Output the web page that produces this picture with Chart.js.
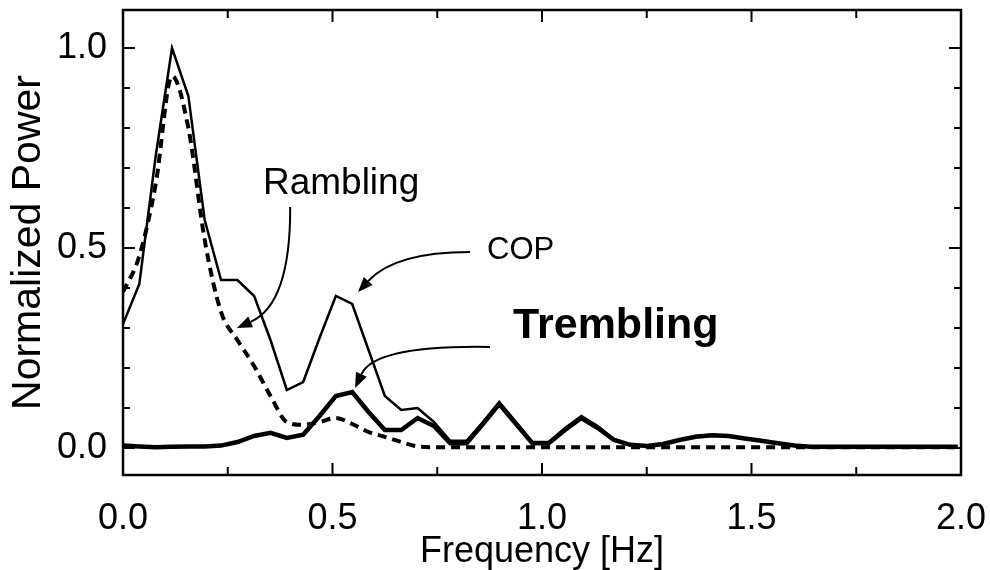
<!DOCTYPE html>
<html>
<head>
<meta charset="utf-8">
<script src="https://cdn.jsdelivr.net/npm/chart.js@4.4.1/dist/chart.umd.min.js"></script>
<style>
  html, body { margin: 0; padding: 0; background: #fff; }
  #wrap { width: 990px; height: 570px; }
</style>
</head>
<body>
<div id="wrap"><canvas id="spectrum"></canvas></div>
<script>
// frequency bins (Hz)
const freq = [0, 0.039, 0.078, 0.117, 0.156, 0.195, 0.234, 0.273, 0.313, 0.352,
  0.391, 0.43, 0.469, 0.508, 0.547, 0.586, 0.625, 0.664, 0.703, 0.742,
  0.781, 0.82, 0.859, 0.898, 0.938, 0.977, 1.016, 1.055, 1.094, 1.133,
  1.172, 1.211, 1.25, 1.289, 1.328, 1.367, 1.406, 1.445, 1.484, 1.523,
  1.563, 1.602, 1.641, 1.68, 1.719, 1.758, 1.797, 1.836, 1.875, 1.914,
  1.953, 1.992];

const cop = [0.31, 0.41, 0.73, 1.0, 0.88, 0.57, 0.42, 0.42, 0.38, 0.27,
  0.145, 0.165, 0.275, 0.38, 0.36, 0.245, 0.13, 0.095, 0.10, 0.065,
  0.018, 0.018, 0.065, 0.115, 0.065, 0.015, 0.015, 0.05, 0.08, 0.055,
  0.022, 0.008, 0.005, 0.01, 0.02, 0.03, 0.033, 0.03, 0.024, 0.018,
  0.012, 0.006, 0.003, 0.003, 0.003, 0.003, 0.003, 0.003, 0.003, 0.003,
  0.003, 0.003];

const trembling = [0.006, 0.004, 0.002, 0.003, 0.004, 0.004, 0.006, 0.015, 0.03, 0.038,
  0.025, 0.033, 0.08, 0.13, 0.14, 0.09, 0.045, 0.045, 0.075, 0.055,
  0.012, 0.012, 0.06, 0.11, 0.06, 0.012, 0.012, 0.045, 0.075, 0.05,
  0.02, 0.008, 0.005, 0.01, 0.02, 0.028, 0.032, 0.03, 0.024, 0.018,
  0.012, 0.006, 0.003, 0.003, 0.003, 0.003, 0.003, 0.003, 0.003, 0.003,
  0.003, 0.003];

const rambling = [0.39, 0.48, 0.66, 0.93, 0.80, 0.52, 0.34, 0.27, 0.205, 0.13,
  0.065, 0.058, 0.065, 0.075, 0.06, 0.04, 0.028, 0.015, 0.004, 0.002,
  0.002, 0.002, 0.002, 0.002, 0.002, 0.002, 0.002, 0.002, 0.002, 0.002,
  0.002, 0.002, 0.002, 0.002, 0.002, 0.002, 0.002, 0.002, 0.002, 0.002,
  0.002, 0.002, 0.002, 0.002, 0.002, 0.002, 0.002, 0.002, 0.002, 0.002,
  0.002, 0.002];

const xTicks = [0, 0.25, 0.5, 0.75, 1.0, 1.25, 1.5, 1.75, 2.0];
const yTicks = [0, 0.1, 0.2, 0.3, 0.4, 0.5, 0.6, 0.7, 0.8, 0.9, 1.0];

// labels + curved arrows, in data units
const notes = [
  {text: 'Rambling', x: 0.334, y: 0.66, font: '37px "Liberation Sans", Arial, sans-serif'},
  {text: 'COP', x: 0.869, y: 0.495, font: '31px "Liberation Sans", Arial, sans-serif'},
  {text: 'Trembling', x: 0.931, y: 0.305, font: 'bold 43px "Liberation Sans", Arial, sans-serif'}
];
const arrows = [
  {from: [0.399, 0.6025], ctrl: [0.40, 0.36], to: [0.272, 0.30]},
  {from: [0.828, 0.49], ctrl: [0.649, 0.49], to: [0.561, 0.39]},
  {from: [0.876, 0.2525], ctrl: [0.601, 0.2575], to: [0.554, 0.15]}
];

const FONT = '"Liberation Sans", Arial, sans-serif';
const isHalf = v => Math.abs(v * 2 - Math.round(v * 2)) < 1e-6;

const pts = arr => arr.map((v, i) => ({x: freq[i], y: v}));

const framePlugin = {
  id: 'frame',
  afterDraw(chart) {
    const {ctx, chartArea: a, scales: {x, y}} = chart;
    ctx.save();
    ctx.strokeStyle = '#000';
    ctx.lineWidth = 2.5;
    ctx.strokeRect(a.left, a.top, a.right - a.left, a.bottom - a.top);

    ctx.lineWidth = 2;
    ctx.beginPath();
    xTicks.forEach(v => {
      const px = x.getPixelForValue(v);
      const len = isHalf(v) ? 12 : 8;
      ctx.moveTo(px, a.bottom); ctx.lineTo(px, a.bottom - len);
      ctx.moveTo(px, a.top); ctx.lineTo(px, a.top + len);
    });
    yTicks.forEach(v => {
      const py = y.getPixelForValue(v);
      const len = isHalf(v) ? 12 : 7;
      ctx.moveTo(a.left, py); ctx.lineTo(a.left + len, py);
      ctx.moveTo(a.right, py); ctx.lineTo(a.right - len, py);
    });
    ctx.stroke();

    // arrows
    ctx.lineWidth = 2;
    ctx.fillStyle = '#000';
    arrows.forEach(ar => {
      const p0 = [x.getPixelForValue(ar.from[0]), y.getPixelForValue(ar.from[1])];
      const c = [x.getPixelForValue(ar.ctrl[0]), y.getPixelForValue(ar.ctrl[1])];
      const p1 = [x.getPixelForValue(ar.to[0]), y.getPixelForValue(ar.to[1])];
      const ang = Math.atan2(p1[1] - c[1], p1[0] - c[0]);
      const hl = 15, hw = 6;
      const bx = p1[0] - hl * Math.cos(ang), by = p1[1] - hl * Math.sin(ang);
      ctx.beginPath();
      ctx.moveTo(p0[0], p0[1]);
      ctx.quadraticCurveTo(c[0], c[1], bx, by);
      ctx.stroke();
      ctx.beginPath();
      ctx.moveTo(p1[0], p1[1]);
      ctx.lineTo(bx + hw * Math.sin(ang), by - hw * Math.cos(ang));
      ctx.lineTo(bx - hw * Math.sin(ang), by + hw * Math.cos(ang));
      ctx.closePath();
      ctx.fill();
    });

    ctx.textAlign = 'left';
    ctx.textBaseline = 'middle';
    notes.forEach(n => {
      ctx.font = n.font;
      ctx.fillText(n.text, x.getPixelForValue(n.x), y.getPixelForValue(n.y));
    });
    ctx.restore();
  }
};

new Chart(document.getElementById('spectrum'), {
  type: 'line',
  data: {
    datasets: [
      {
        label: 'COP',
        data: pts(cop),
        borderColor: '#000',
        borderWidth: 2.5,
        pointRadius: 0,
        tension: 0
      },
      {
        label: 'Trembling',
        data: pts(trembling),
        borderColor: '#000',
        borderWidth: 4.5,
        pointRadius: 0,
        tension: 0
      },
      {
        label: 'Rambling',
        data: pts(rambling),
        borderColor: '#000',
        borderWidth: 4,
        borderDash: [9, 6],
        pointRadius: 0,
        cubicInterpolationMode: 'monotone'
      }
    ]
  },
  options: {
    responsive: true,
    maintainAspectRatio: false,
    animation: false,
    layout: {padding: {top: 10, right: 29, left: 0, bottom: 0}},
    plugins: {
      legend: {display: false},
      tooltip: {enabled: false}
    },
    scales: {
      x: {
        type: 'linear',
        min: 0,
        max: 2,
        afterBuildTicks: s => { s.ticks = xTicks.map(v => ({value: v})); },
        afterFit: s => { s.height = 95; s.paddingLeft = 0; s.paddingRight = 0; },
        grid: {display: false, drawTicks: false},
        border: {display: false},
        ticks: {
          autoSkip: false,
          maxRotation: 0,
          padding: 22,
          color: '#000',
          font: {family: FONT, size: 36},
          callback: v => isHalf(v) ? v.toFixed(1) : ''
        },
        title: {
          display: true,
          text: 'Frequency [Hz]',
          color: '#000',
          font: {family: FONT, size: 36, lineHeight: 1},
          padding: {top: 0, bottom: 0}
        }
      },
      y: {
        min: -0.0675,
        max: 1.095,
        afterBuildTicks: s => { s.ticks = yTicks.map(v => ({value: v})); },
        afterFit: s => { s.width = 123; s.paddingTop = 0; s.paddingBottom = 0; },
        grid: {display: false, drawTicks: false},
        border: {display: false},
        ticks: {
          autoSkip: false,
          padding: 16,
          color: '#000',
          font: {family: FONT, size: 36},
          callback: v => isHalf(v) ? v.toFixed(1) : ''
        },
        title: {
          display: true,
          text: 'Normalized Power',
          color: '#000',
          font: {family: FONT, size: 41, lineHeight: 1},
          padding: {top: 8, bottom: 0}
        }
      }
    }
  },
  plugins: [framePlugin]
});
</script>
</body>
</html>
